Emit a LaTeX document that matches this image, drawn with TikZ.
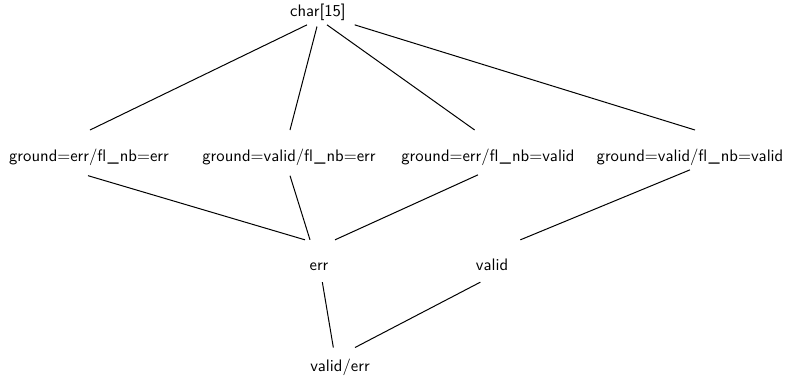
\documentclass[tikz,border=0pt]{standalone}
\usepackage{tikz}

\begin{document}
\begin{tikzpicture}[
  x=0.6pt, y=-0.6pt,
  font=\sffamily,
  lat/.style={inner sep=3pt, text height=7pt, text depth=2pt},
  link/.style={semithick}]
\useasboundingbox (0,0) rectangle (788,382);
\newcommand{\usc}{\kern0.7pt\_\kern0.7pt}
\node[lat] (top) at (318,12) {char[15]};
\node[lat] (ee) at (89,157) {ground=err/fl\usc nb=err};
\node[lat] (ve) at (289,157) {ground=valid/fl\usc nb=err};
\node[lat] (ev) at (488,157) {ground=err/fl\usc nb=valid};
\node[lat] (vv) at (690,157) {ground=valid/fl\usc nb=valid};
\node[lat] (err) at (319,266) {err};
\node[lat] (val) at (492,266) {valid};
\node[lat] (bot) at (340,367) {valid/err};
% shifts: start on \x.south (\a,\d), end on \y.north (\b,\c)
\foreach \x/\a/\d/\y/\b/\c in {top/-6.6/0/ee/0.6/8.5, top/-0.6/-1/ve/0.6/8.5,
    top/5.4/0/ev/-8/8.5, top/22/0/vv/3/8.5, ee/-0.6/-3.5/err/-8.4/8,
    ve/0.6/-3.5/err/-5.4/8, ev/-6/-3/err/9.6/8, vv/0/0/val/17/8,
    err/2/-2/bot/-4/4, val/-7/-2/bot/9/4}
  \draw[link] ([xshift=\a pt, yshift=\d pt]\x.south)
    -- ([xshift=\b pt, yshift=\c pt]\y.north);
\end{tikzpicture}
\end{document}
